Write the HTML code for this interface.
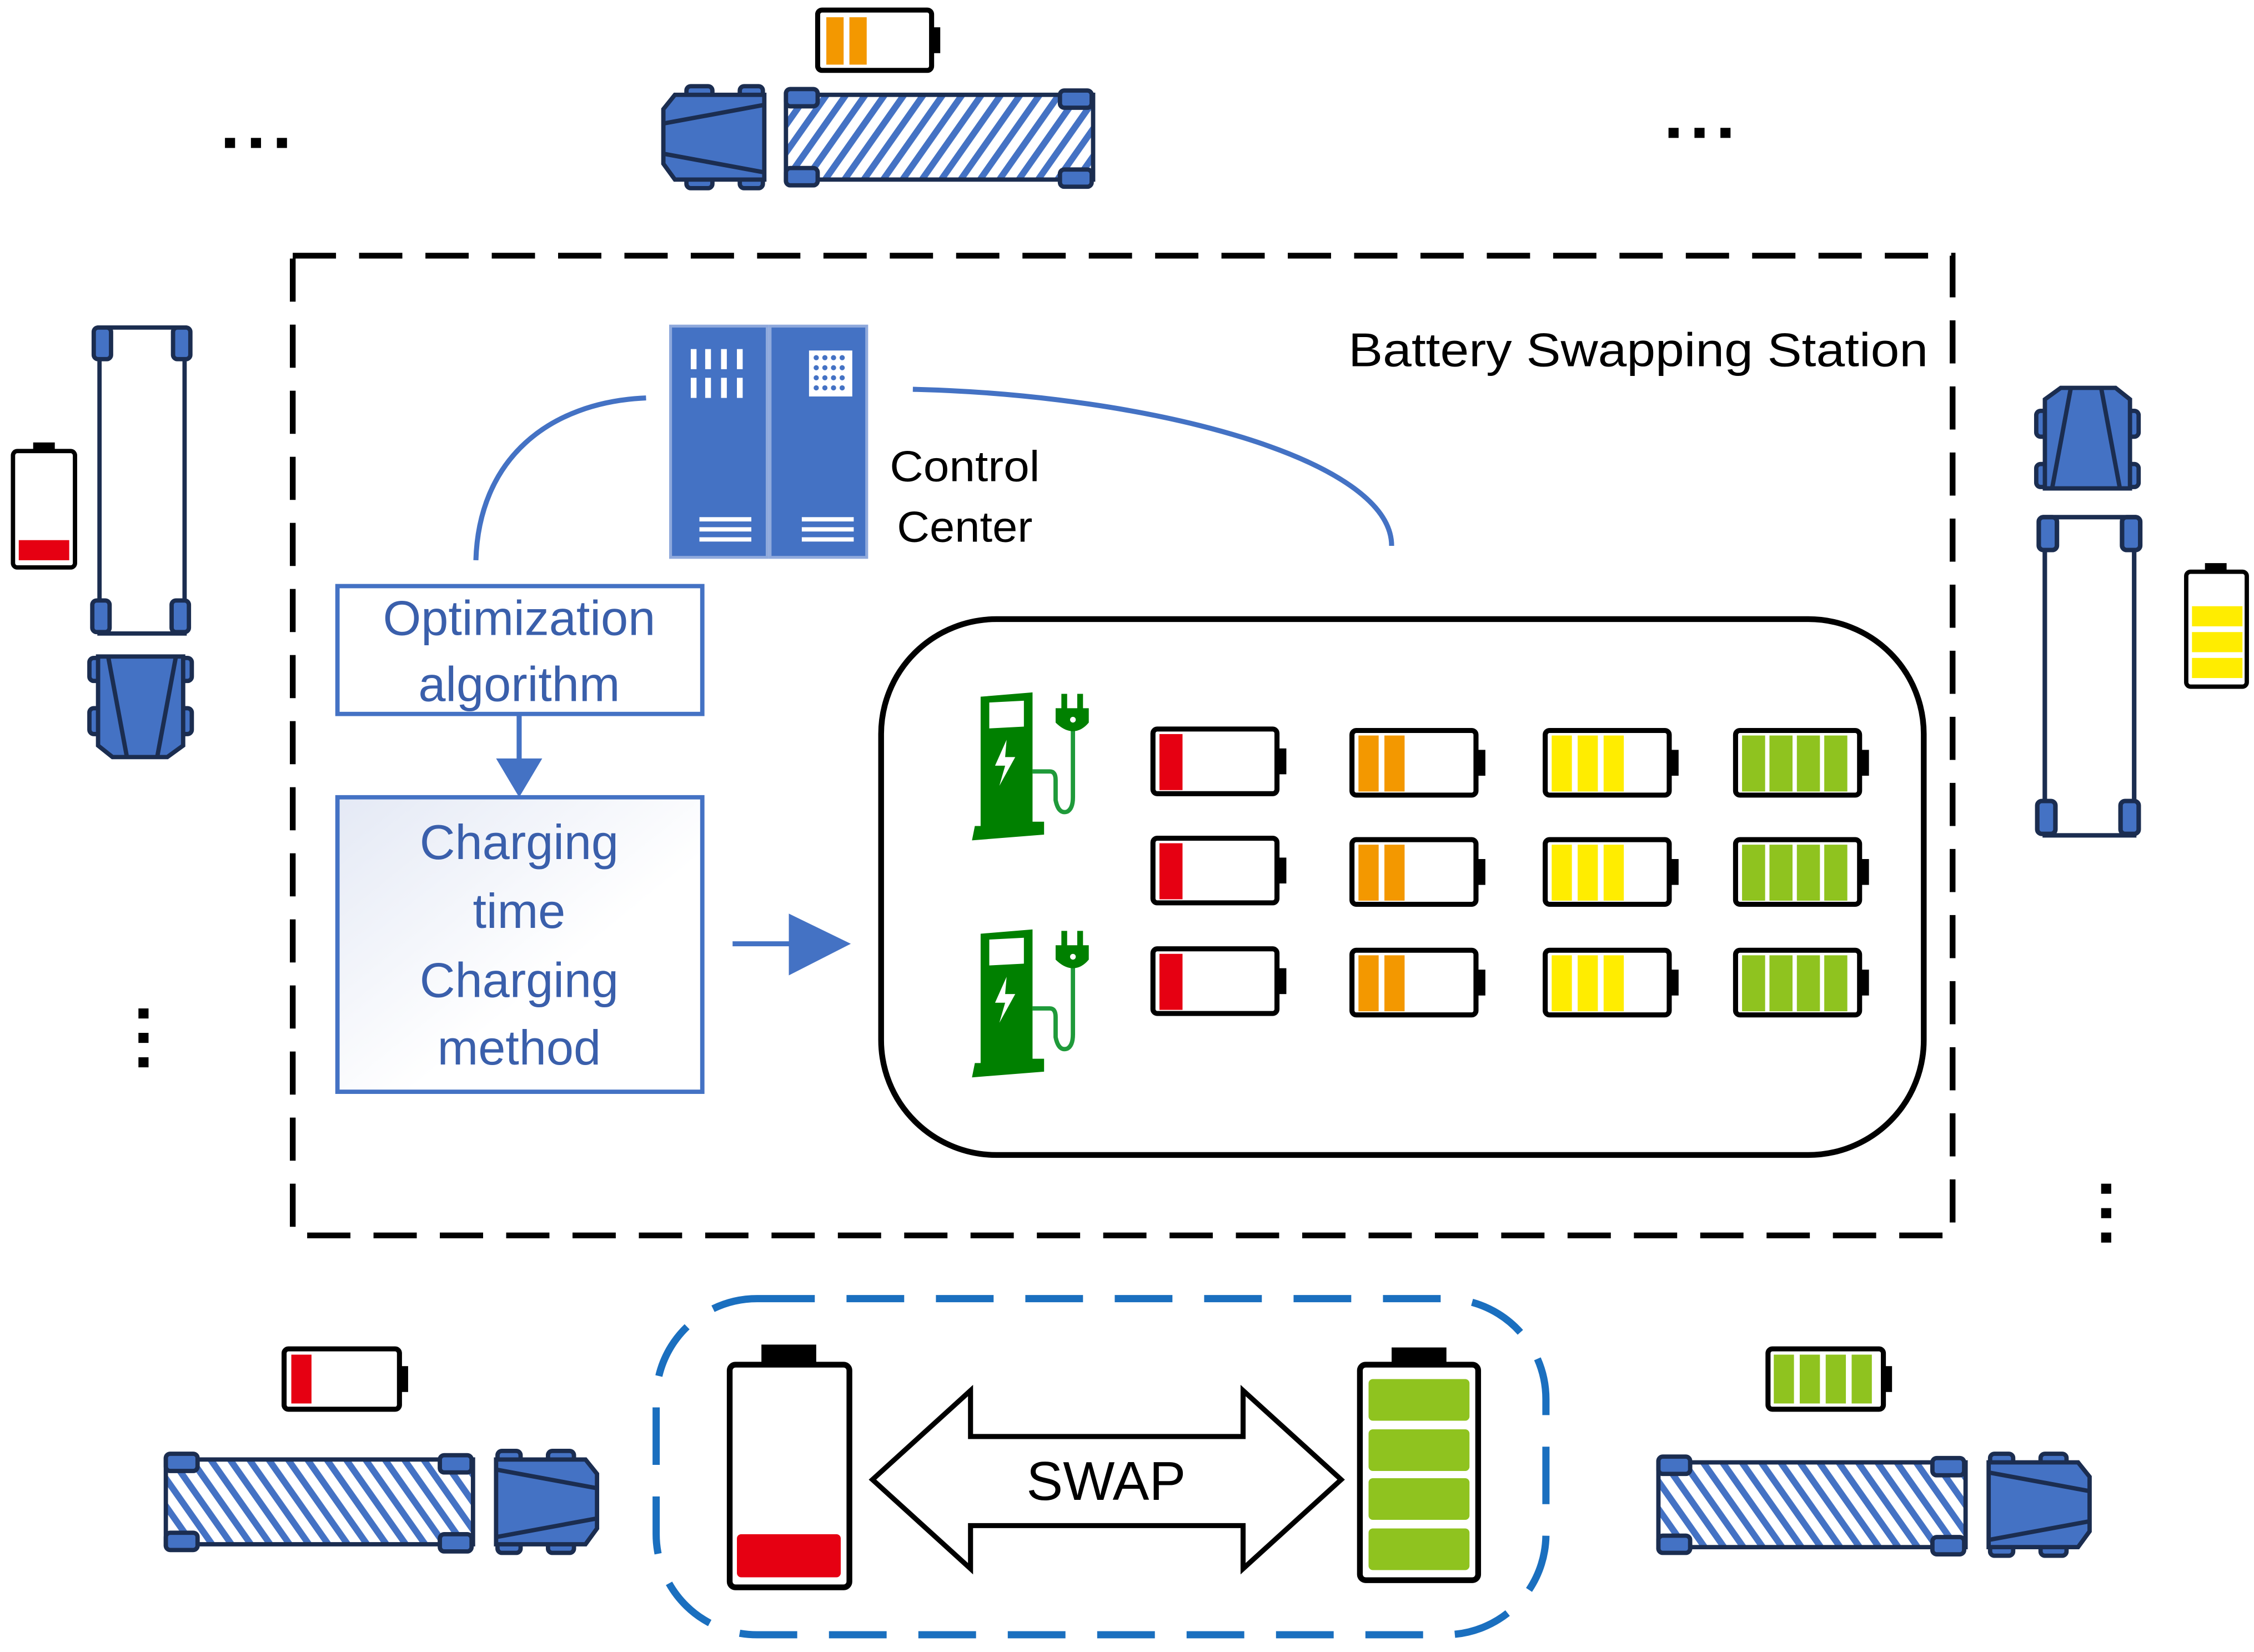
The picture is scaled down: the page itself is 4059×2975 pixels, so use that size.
<!DOCTYPE html>
<html><head><style>html,body{margin:0;padding:0;background:#fff}svg{display:block}</style></head><body>
<svg width="4059" height="2975" viewBox="0 0 1563 1150" preserveAspectRatio="none" xmlns="http://www.w3.org/2000/svg" font-family="Liberation Sans, DejaVu Sans, sans-serif">
<defs>
<pattern id="hatch" width="11" height="11" patternUnits="userSpaceOnUse" patternTransform="rotate(35)">
<rect width="11" height="11" fill="#fff"/><rect width="4.5" height="11" fill="#4472c4"/>
</pattern>
<pattern id="hatch2" width="11" height="11" patternUnits="userSpaceOnUse" patternTransform="rotate(-35)">
<rect width="11" height="11" fill="#fff"/><rect width="4.5" height="11" fill="#4472c4"/>
</pattern>
<linearGradient id="gb" x1="0" y1="0" x2="1" y2="1"><stop offset="0" stop-color="#e4e9f5"/><stop offset="0.6" stop-color="#fff"/></linearGradient>
<g id="cab">
<rect x="16" y="-4" width="18" height="13" rx="3" fill="#4472c4" stroke="#1b2d50" stroke-width="3"/>
<rect x="53" y="-4" width="16" height="13" rx="3" fill="#4472c4" stroke="#1b2d50" stroke-width="3"/>
<rect x="16" y="54" width="18" height="13" rx="3" fill="#4472c4" stroke="#1b2d50" stroke-width="3"/>
<rect x="53" y="54" width="16" height="13" rx="3" fill="#4472c4" stroke="#1b2d50" stroke-width="3"/>
<polygon points="0,12 8,2 70,2 70,61 8,61 0,50" fill="#4472c4" stroke="#1b2d50" stroke-width="3"/>
<line x1="0" y1="22" x2="70" y2="9" stroke="#1b2d50" stroke-width="3"/>
<line x1="0" y1="43" x2="70" y2="56" stroke="#1b2d50" stroke-width="3"/>
</g>
<g id="wheels">
<rect x="0" y="-2" width="22" height="12" rx="3" fill="#4472c4" stroke="#1b2d50" stroke-width="3"/>
<rect x="190" y="-1" width="22" height="12" rx="3" fill="#4472c4" stroke="#1b2d50" stroke-width="3"/>
<rect x="0" y="53" width="22" height="12" rx="3" fill="#4472c4" stroke="#1b2d50" stroke-width="3"/>
<rect x="190" y="54" width="22" height="12" rx="3" fill="#4472c4" stroke="#1b2d50" stroke-width="3"/>
</g>
<g id="trailerH">
<rect x="0" y="2" width="213" height="59" fill="url(#hatch)" stroke="#1b2d50" stroke-width="3"/>
<use href="#wheels"/>
</g>
<g id="trailerH2">
<rect x="0" y="2" width="213" height="59" fill="url(#hatch2)" stroke="#1b2d50" stroke-width="3"/>
<use href="#wheels"/>
</g>
<g id="trailerW">
<rect x="0" y="2" width="213" height="59" fill="#fff" stroke="#1b2d50" stroke-width="3"/>
<use href="#wheels"/>
</g>
<g id="batt">
<rect x="1.5" y="1.5" width="86" height="45" rx="3" fill="#fff" stroke="#000" stroke-width="3.5"/>
<rect x="88" y="15" width="6" height="18" fill="#000"/>
</g>
<g id="charger">
<path d="M12,10 L48,7 L48,97 L56,97 L56,106 L6,110 L8,100 L12,100 Z" fill="#008000"/>
<rect x="18" y="15" width="24" height="18" fill="#fff" transform="skewY(-3)"/>
<path d="M30,40 L22,58 L29,58 L25,72 L36,52 L29,52 Z" fill="#fff"/>
<path d="M48,62 L60,62 Q64,62 64,68 L64,82 Q66,92 72,90 Q76,88 76,80 L76,30" fill="none" stroke="#1f9a3a" stroke-width="3"/>
<path d="M68,8 L68,18 L64,18 L64,28 Q70,34 76,34 Q82,34 87,28 L87,18 L83,18 L83,8 L79,8 L79,18 L72,18 L72,8 Z" fill="#008000"/>
<circle cx="76" cy="26" r="2" fill="#fff"/>
</g>
</defs>

<rect x="203" y="178" width="1151" height="682" fill="none" stroke="#000" stroke-width="4" stroke-dasharray="30,16"/>
<text x="1337" y="255" font-size="33" text-anchor="end" textLength="402" lengthAdjust="spacingAndGlyphs" fill="#000">Battery Swapping Station</text>

<rect x="465" y="227" width="67" height="161" fill="#4472c4" stroke="#8fa9dc" stroke-width="2"/>
<rect x="534" y="227" width="67" height="161" fill="#4472c4" stroke="#8fa9dc" stroke-width="2"/>
<g fill="#fff">
<rect x="479" y="243" width="4" height="14"/><rect x="489" y="243" width="4" height="14"/><rect x="500" y="243" width="4" height="14"/><rect x="511" y="243" width="4" height="14"/>
<rect x="479" y="263" width="4" height="14"/><rect x="489" y="263" width="4" height="14"/><rect x="500" y="263" width="4" height="14"/><rect x="511" y="263" width="4" height="14"/>
<rect x="485" y="360" width="36" height="3"/><rect x="485" y="367" width="36" height="3"/><rect x="485" y="374" width="36" height="3"/>
<rect x="556" y="360" width="36" height="3"/><rect x="556" y="367" width="36" height="3"/><rect x="556" y="374" width="36" height="3"/>
<rect x="561" y="244" width="30" height="32"/>
</g>
<g fill="#4472c4">
<circle cx="566" cy="249" r="1.8"/><circle cx="572" cy="249" r="1.8"/><circle cx="578" cy="249" r="1.8"/><circle cx="584" cy="249" r="1.8"/>
<circle cx="566" cy="256" r="1.8"/><circle cx="572" cy="256" r="1.8"/><circle cx="578" cy="256" r="1.8"/><circle cx="584" cy="256" r="1.8"/>
<circle cx="566" cy="263" r="1.8"/><circle cx="572" cy="263" r="1.8"/><circle cx="578" cy="263" r="1.8"/><circle cx="584" cy="263" r="1.8"/>
<circle cx="566" cy="270" r="1.8"/><circle cx="572" cy="270" r="1.8"/><circle cx="578" cy="270" r="1.8"/><circle cx="584" cy="270" r="1.8"/>
</g>
<text x="617" y="335" font-size="30" textLength="104" lengthAdjust="spacingAndGlyphs">Control</text>
<text x="622" y="377" font-size="30" textLength="94" lengthAdjust="spacingAndGlyphs">Center</text>
<path d="M448,277 C380,280 332,320 330,390" fill="none" stroke="#4472c4" stroke-width="3.5"/>
<path d="M633,271 C800,275 965,320 965,380" fill="none" stroke="#4472c4" stroke-width="3.5"/>

<rect x="234" y="408" width="253" height="89" fill="#fff" stroke="#4472c4" stroke-width="3"/>
<text x="360" y="442" font-size="34" text-anchor="middle" fill="#3a5fab">Optimization</text>
<text x="360" y="488" font-size="34" text-anchor="middle" fill="#3a5fab">algorithm</text>
<line x1="360" y1="497" x2="360" y2="530" stroke="#4472c4" stroke-width="3.5"/>
<polygon points="344,528 376,528 360,555" fill="#4472c4"/>
<rect x="234" y="555" width="253" height="205" fill="url(#gb)" stroke="#4472c4" stroke-width="3"/>
<g font-size="34" text-anchor="middle" fill="#3a5fab">
<text x="360" y="598">Charging</text><text x="360" y="646">time</text><text x="360" y="694">Charging</text><text x="360" y="741">method</text>
</g>
<line x1="508" y1="657" x2="550" y2="657" stroke="#4472c4" stroke-width="3.5"/>
<polygon points="547,636 547,679 590,657" fill="#4472c4"/>

<rect x="611" y="431" width="723" height="373" rx="80" fill="#fff" stroke="#000" stroke-width="4"/>
<use href="#charger" x="668" y="475"/>
<use href="#charger" x="668" y="640"/>
<g id="row">
<use href="#batt" x="798" y="506"/><rect x="804" y="511" width="16" height="39" fill="#e60012"/>
<use href="#batt" x="936" y="507"/><rect x="942" y="512" width="14" height="39" fill="#f39800"/><rect x="960" y="512" width="14" height="39" fill="#f39800"/>
<use href="#batt" x="1070" y="507"/><rect x="1076" y="512" width="14" height="39" fill="#ffed00"/><rect x="1094" y="512" width="14" height="39" fill="#ffed00"/><rect x="1112" y="512" width="14" height="39" fill="#ffed00"/>
<use href="#batt" x="1202" y="507"/><rect x="1208" y="512" width="16" height="39" fill="#8fc31f"/><rect x="1227" y="512" width="16" height="39" fill="#8fc31f"/><rect x="1246" y="512" width="16" height="39" fill="#8fc31f"/><rect x="1265" y="512" width="16" height="39" fill="#8fc31f"/>
</g>
<use href="#row" x="0" y="76"/>
<use href="#row" x="0" y="153"/>

<use href="#cab" x="460" y="64"/>
<use href="#trailerH" x="545" y="64"/>
<rect x="567" y="7" width="79" height="42" rx="3" fill="#fff" stroke="#000" stroke-width="3.5"/>
<rect x="646" y="19" width="6" height="18" fill="#000"/>
<rect x="573" y="12" width="12" height="33" fill="#f39800"/><rect x="589" y="12" width="12" height="33" fill="#f39800"/>

<g transform="translate(130,228) rotate(90)"><use href="#trailerW"/></g>
<g transform="translate(66,527) rotate(-90)"><use href="#cab"/></g>
<rect x="9" y="314" width="43" height="81" rx="3" fill="#fff" stroke="#000" stroke-width="3"/>
<rect x="23" y="308" width="15" height="7" fill="#000"/>
<rect x="13" y="376" width="35" height="14" fill="#e60012"/>

<g transform="translate(1479,270) rotate(90)"><use href="#cab"/></g>
<g transform="translate(1482,360) rotate(90)"><use href="#trailerW" transform="scale(1.04,1.05)"/></g>
<rect x="1516" y="398" width="42" height="80" rx="3" fill="#fff" stroke="#000" stroke-width="3"/>
<rect x="1529" y="392" width="15" height="7" fill="#000"/>
<rect x="1520" y="422" width="35" height="14" fill="#ffed00"/><rect x="1520" y="440" width="35" height="14" fill="#ffed00"/><rect x="1520" y="458" width="35" height="14" fill="#ffed00"/>

<use href="#trailerH2" x="115" y="1014"/>
<g transform="translate(414,1014) scale(-1,1)"><use href="#cab"/></g>
<rect x="197" y="939" width="80" height="42" rx="3" fill="#fff" stroke="#000" stroke-width="3.5"/>
<rect x="277" y="951" width="6" height="18" fill="#000"/>
<rect x="202" y="943" width="14" height="34" fill="#e60012"/>

<use href="#trailerH2" x="1150" y="1016"/>
<g transform="translate(1449,1016) scale(-1,1)"><use href="#cab"/></g>
<rect x="1226" y="939" width="80" height="42" rx="3" fill="#fff" stroke="#000" stroke-width="3.5"/>
<rect x="1306" y="951" width="6" height="18" fill="#000"/>
<rect x="1230" y="943" width="14" height="34" fill="#8fc31f"/><rect x="1248" y="943" width="14" height="34" fill="#8fc31f"/><rect x="1266" y="943" width="14" height="34" fill="#8fc31f"/><rect x="1284" y="943" width="14" height="34" fill="#8fc31f"/>

<rect x="455" y="904" width="617" height="234" rx="70" fill="none" stroke="#1a6fbf" stroke-width="5" stroke-dasharray="40,22"/>
<rect x="506" y="950" width="83" height="155" rx="4" fill="#fff" stroke="#000" stroke-width="4"/>
<rect x="528" y="936" width="38" height="15" fill="#000"/>
<rect x="511" y="1068" width="72" height="30" rx="3" fill="#e60012"/>
<rect x="943" y="950" width="82" height="150" rx="4" fill="#fff" stroke="#000" stroke-width="4"/>
<rect x="965" y="938" width="38" height="13" fill="#000"/>
<rect x="949" y="960" width="70" height="29" rx="3" fill="#8fc31f"/>
<rect x="949" y="995" width="70" height="29" rx="3" fill="#8fc31f"/>
<rect x="949" y="1029" width="70" height="29" rx="3" fill="#8fc31f"/>
<rect x="949" y="1064" width="70" height="29" rx="3" fill="#8fc31f"/>
<polygon points="605,1030 673,968 673,1000 862,1000 862,968 930,1030 862,1092 862,1062 673,1062 673,1092" fill="#fff" stroke="#000" stroke-width="3.5"/>
<text x="767" y="1044" font-size="38" text-anchor="middle">SWAP</text>

<g fill="#000">
<rect x="156" y="96" width="7" height="7"/><rect x="174" y="96" width="7" height="7"/><rect x="192" y="96" width="7" height="7"/>
<rect x="1157" y="89" width="7" height="7"/><rect x="1175" y="89" width="7" height="7"/><rect x="1193" y="89" width="7" height="7"/>
<rect x="96" y="702" width="7" height="7"/><rect x="96" y="719" width="7" height="7"/><rect x="96" y="736" width="7" height="7"/>
<rect x="1457" y="824" width="7" height="7"/><rect x="1457" y="841" width="7" height="7"/><rect x="1457" y="858" width="7" height="7"/>
</g>
</svg>
</body></html>
